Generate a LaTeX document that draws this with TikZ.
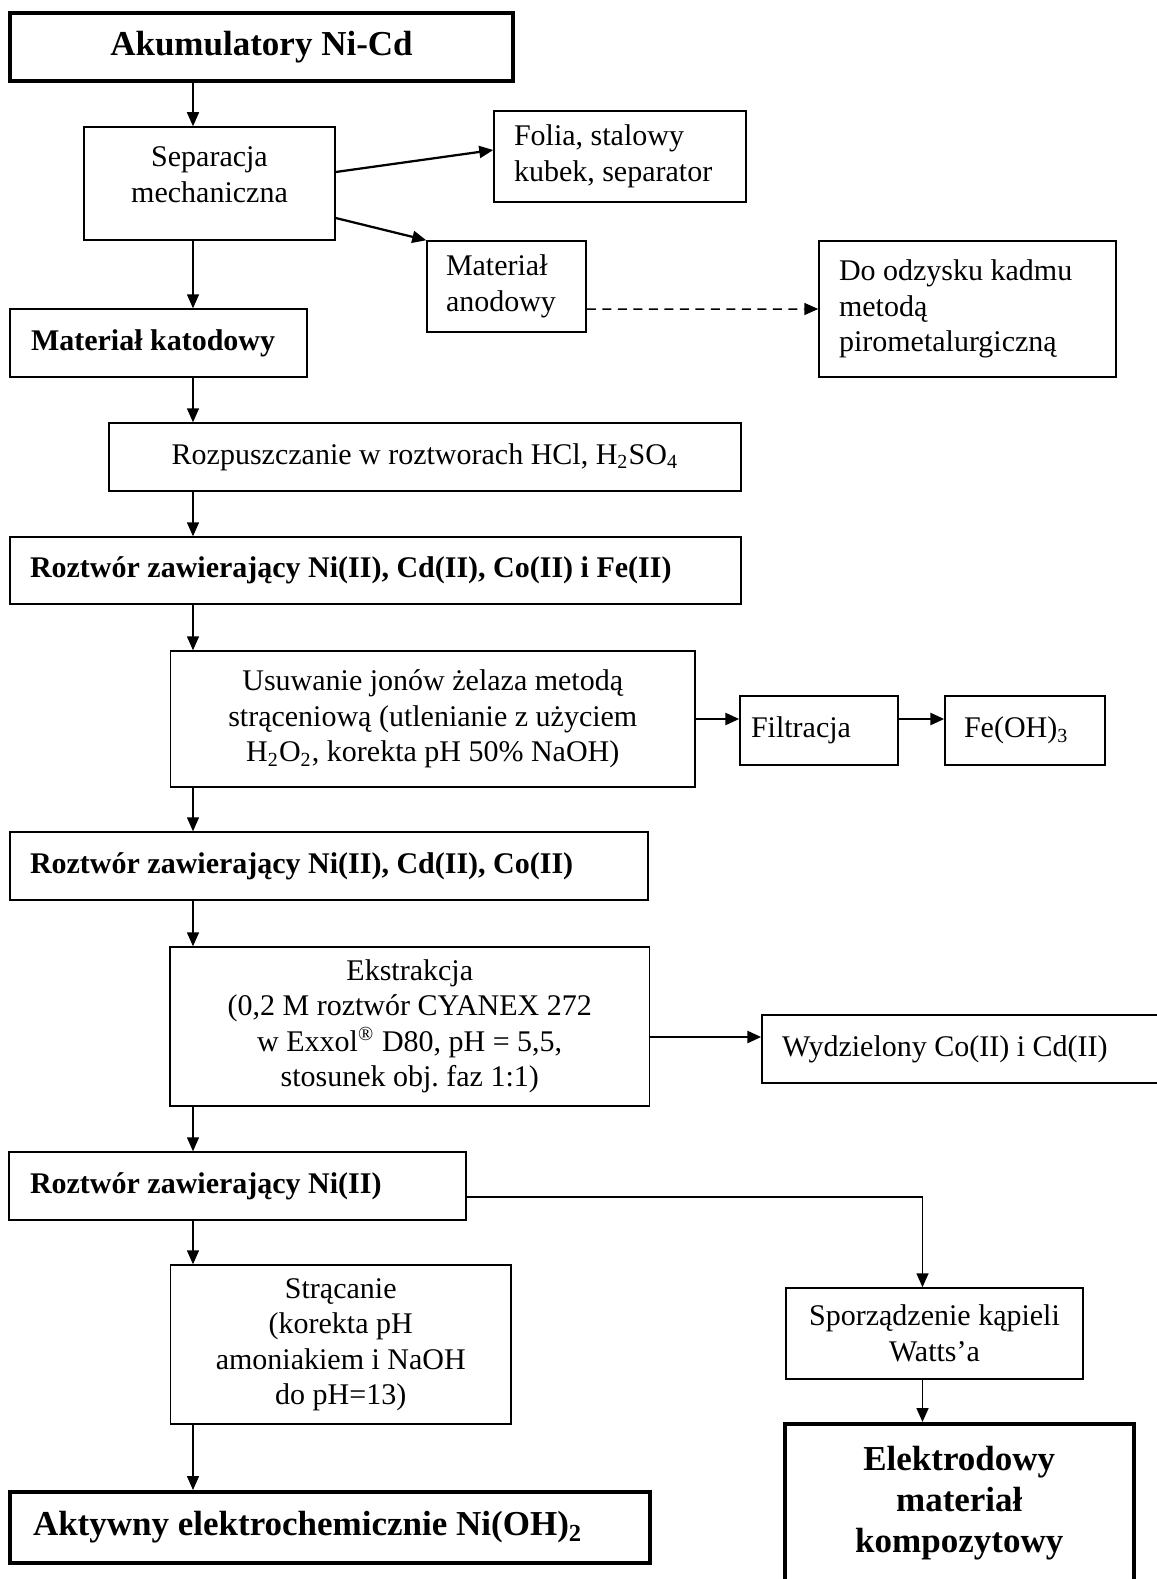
\documentclass[tikz,border=0pt]{standalone}
\usepackage{fontspec}
\setmainfont{Liberation Serif}
\usetikzlibrary{arrows.meta}

\newcommand\normtxt{\fontsize{12}{14.2}\selectfont\frenchspacing}
\newcommand\bigtxt{\fontsize{14}{16.4}\selectfont\bfseries}

\tikzset{
	box/.style={draw, line width=0.6pt, inner ysep=0pt, font=\normtxt},
	cbox/.style n args={2}{box, align=center, minimum width={#1*0.4pt}, minimum height={#2*0.4pt}},
	lbox/.style n args={3}{box, align=flush left, minimum width={#1*0.4pt}, minimum height={#2*0.4pt}, inner xsep={#3*0.4pt}, text width={(#1-2*#3)*0.4pt}},
	heavy/.style={line width=1.6pt},
	arr/.style={line width=0.6pt, -{Triangle[length=5.6pt,width=4.8pt]}},
	fatarr/.style={arr, line width=1.1pt},
}

\begin{document}
\begin{tikzpicture}[x=0.4pt, y=-0.4pt]
	\useasboundingbox (0,0) rectangle (1157,1579);
	\coordinate (spine) at (193,0);
	\coordinate (branch) at (922.5,0);

	\node[cbox={503}{68}, heavy, font=\bigtxt] (akum) at (261.5,47) {Akumulatory Ni-Cd};
	\node[cbox={251}{113}] (sep) at (209.5,183.5) {Separacja\\mechaniczna\\[-7pt]\mbox{}};
	\node[lbox={252}{91}{20}] (folia) at (620,156.5) {Folia, stalowy\\kubek, separator};
	\node[lbox={159}{91}{19}] (anod) at (506.5,286.5) {Materiał\\anodowy};
	\node[lbox={297}{136}{20}] (odz) at (967.5,309) {Do odzysku kadmu\\metodą\\pirometalurgiczną};
	\node[lbox={297}{68}{21}, font=\normtxt\bfseries] (kat) at (158.5,343) {Materiał katodowy};
	\node[cbox={632}{68}] (rozp) at (425,457) {Rozpuszczanie w roztworach HCl, H\textsubscript{2}SO\textsubscript{4}};
	\node[lbox={731}{67}{20}, font=\normtxt\bfseries] (rfe) at (375.5,570.5) {Roztwór zawierający Ni(II), Cd(II), Co(II) i Fe(II)};
	\node[cbox={524.5}{136}] (usu) at (432.75,719) {Usuwanie jonów żelaza metodą\\strąceniową (utlenianie z użyciem\\H\textsubscript{2}O\textsubscript{2}, korekta pH 50\% NaOH)};
	\node[lbox={158}{69}{11}] (filt) at (819,730.5) {Filtracja};
	\node[lbox={160}{69}{19}] (fe) at (1025,730.5) {Fe(OH)\textsubscript{3}};
	\node[lbox={638}{68}{20}, font=\normtxt\bfseries] (rco) at (329,866) {Roztwór zawierający Ni(II), Cd(II), Co(II)};
	\node[cbox={479.5}{159}] (ekst) at (409.75,1026.5) {Ekstrakcja\\(0,2 M roztwór CYANEX 272\\w Exxol\textsuperscript{®} D80, pH = 5,5,\\stosunek obj. faz 1:1)};
	\node[lbox={403}{68}{20}] (wyd) at (963.5,1049) {Wydzielony Co(II) i Cd(II)};
	\node[lbox={457}{68}{21}, font=\normtxt\bfseries] (rni) at (237.5,1186) {Roztwór zawierający Ni(II)};
	\node[cbox={340.5}{159}] (stra) at (340.75,1344.5) {Strącanie\\(korekta pH\\amoniakiem i NaOH\\do pH=13)};
	\node[cbox={297}{91}] (wat) at (934.5,1333.5) {Sporządzenie kąpieli\\Watts’a};
	\node[lbox={639.5}{71}{23}, heavy, font=\bigtxt] (akt) at (329.75,1527.5) {Aktywny elektrochemicznie Ni(OH)\textsubscript{2}};
	\node[cbox={349.5}{159}, heavy, font=\bigtxt] (elek) at (959.25,1503.5) {Elektrodowy\\materiał\\kompozytowy};

	\draw[arr] (akum.south -| spine) -- (sep.north -| spine);
	\draw[arr] (sep.south -| spine) -- (kat.north -| spine);
	\draw[arr] (kat.south -| spine) -- (rozp.north -| spine);
	\draw[arr] (rozp.south -| spine) -- (rfe.north -| spine);
	\draw[arr] (rfe.south -| spine) -- (usu.north -| spine);
	\draw[arr] (usu.south -| spine) -- (rco.north -| spine);
	\draw[arr] (rco.south -| spine) -- (ekst.north -| spine);
	\draw[arr] (ekst.south -| spine) -- (rni.north -| spine);
	\draw[arr] (rni.south -| spine) -- (stra.north -| spine);
	\draw[arr] (stra.south -| spine) -- (akt.north -| spine);

	\draw[arr, line width=0.9pt] ([yshift=4.6pt]sep.east) -- ([yshift=2.6pt]folia.west);
	\draw[arr, line width=0.9pt] ([yshift=-13.8pt]sep.east) -- (anod.north west);
	\draw[arr, dash pattern=on 3.6pt off 2.6pt] ([yshift=-9pt]anod.east) -- (odz.west);
	\draw[fatarr] (usu.east) -- (usu.east -| filt.west);
	\draw[fatarr] (filt.east |- usu.east) -- (fe.west |- usu.east);
	\draw[fatarr] ([yshift=-4.2pt]ekst.east) -- ([yshift=-4.2pt]ekst.east -| wyd.west);
	\draw[arr] ([yshift=-4.4pt]rni.east) -| (wat.north -| branch);
	\draw[arr] (wat.south -| branch) -- (elek.north -| branch);
\end{tikzpicture}
\end{document}
